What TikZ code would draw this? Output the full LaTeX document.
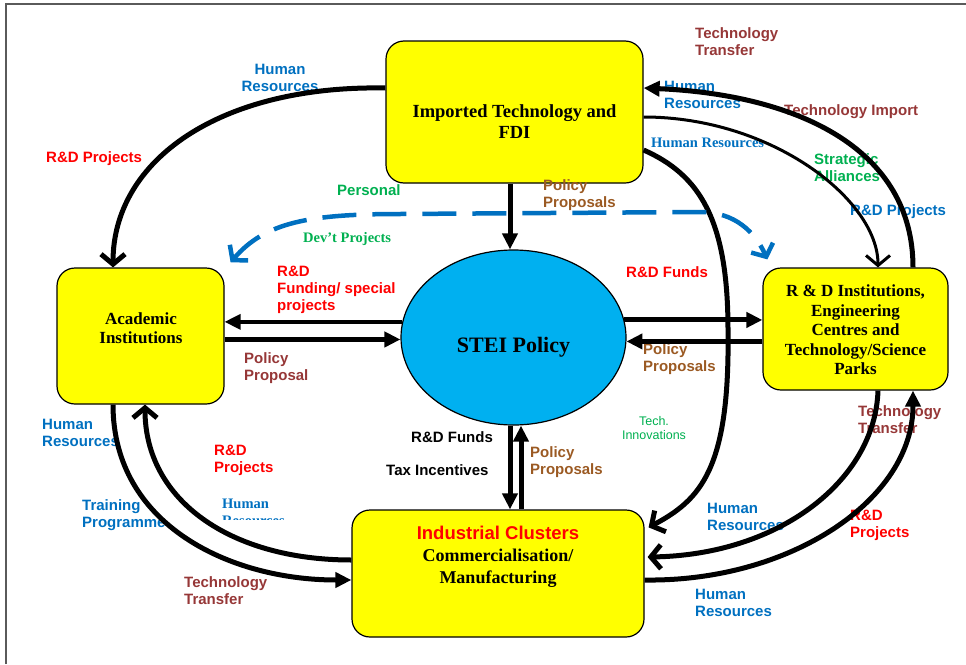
\documentclass[tikz,border=0pt]{standalone}
\usepackage{fontspec}
\setmainfont{Liberation Serif}
\setsansfont{Liberation Sans}
\usetikzlibrary{arrows.meta,shapes.geometric}

\begin{document}
\begin{tikzpicture}[x=1pt,y=-1pt]
    % Define colors
    \definecolor{boxColor}{RGB}{255,255,0}
    \definecolor{policyColor}{RGB}{0,176,240}
    \definecolor{hrColor}{RGB}{0,112,192}
    \definecolor{fundColor}{RGB}{255,0,0}
    \definecolor{transferColor}{RGB}{150,55,55}
    \definecolor{proposalColor}{RGB}{155,90,35}
    \definecolor{allianceColor}{RGB}{0,176,80}
    \definecolor{frameColor}{RGB}{90,90,90}
    % Styles
    \tikzset{
        box/.style={draw, line width=1.2pt, fill=boxColor, rounded corners=18pt},
        boxtext/.style={font=\bfseries\fontsize{17}{19.5}\selectfont, align=center},
        lbl/.style={font=\sffamily\bfseries\fontsize{15}{17}\selectfont, align=left, anchor=west, inner sep=0pt},
        seriflbl/.style={lbl, font=\bfseries\fontsize{14.5}{17}\selectfont},
        link/.style={line width=5pt},
        filled/.style={-{Triangle[length=16pt,width=15pt]}},
        barb/.style={-{Straight Barb[length=10pt,width=24pt]}},
        dashLink/.style={hrColor, line width=4.5pt, dash pattern=on 34pt off 16pt,
            {Straight Barb[length=10pt,width=24pt]}-{Straight Barb[length=10pt,width=24pt]}}
    }
    \useasboundingbox (0,0) rectangle (966,664);
    % Frame
    \draw[frameColor, line width=2pt] (6,664) -- (6,4) -- (966,4);
    % Boxes
    \node[box, minimum width=257pt, minimum height=142pt] (imp) at (514.5,112) {};
    \node[boxtext, font=\bfseries\fontsize{18.5}{21}\selectfont] (impText) at (514.5,122) {Imported Technology and\\FDI};
    \node[box, minimum width=167pt, minimum height=136pt] (acad) at (140.5,336) {};
    \node[boxtext] (acadText) at (141,328) {Academic\\Institutions};
    \node[ellipse, draw, line width=1.2pt, fill=policyColor, minimum width=225pt, minimum height=175pt] (stei) at (513.5,337.5) {};
    \node[boxtext, font=\bfseries\fontsize{22}{24}\selectfont] (steiText) at (513.5,347) {STEI Policy};
    \node[box, minimum width=185pt, minimum height=122pt] (rdi) at (855.5,329) {};
    \node[boxtext] (rdiText) at (855.5,330) {R \& D Institutions,\\Engineering\\Centres and\\Technology/Science\\Parks};
    \node[box, minimum width=292pt, minimum height=127pt] (ind) at (498,573.5) {};
    \node[boxtext, font=\bfseries\fontsize{18}{22}\selectfont] (indText) at (498,557)
        {{\sffamily\fontsize{18.5}{22}\selectfont\color{fundColor}Industrial Clusters}\\Commercialisation/\\Manufacturing};
    % Labels
    \node[lbl, hrColor, align=center, anchor=center] (hrTopLeft) at (280,78) {Human\\Resources};
    \node[lbl, fundColor] (rdTopLeft) at (46,159) {R\&D Projects};
    \node[lbl, allianceColor] (personal) at (337,190) {Personal};
    \node[seriflbl, allianceColor] (devProjects) at (303,239) {Dev't Projects};
    \node[lbl, transferColor] (ttTop) at (695,42) {Technology\\Transfer};
    \node[lbl, hrColor] (hrTopRight) at (664,94.5) {Human\\Resources};
    \node[lbl, transferColor] (techImport) at (784,112) {Technology Import};
    \node[seriflbl, hrColor] (hrImp) at (651,143) {Human Resources};
    \node[lbl, allianceColor] (alliances) at (814,168) {Strategic\\Alliances};
    \node[lbl, hrColor] (rdTopRight) at (850,212) {R\&D Projects};
    \node[lbl, proposalColor] (ppImp) at (543,195) {Policy\\Proposals};
    \node[lbl, fundColor] (fundAcad) at (277,290) {R\&D\\Funding/ special\\projects};
    \node[lbl, transferColor] (ppAcad) at (244,368.5) {Policy\\Proposal};
    \node[lbl, fundColor] (fundRdi) at (626,272) {R\&D Funds};
    \node[lbl, proposalColor] (ppRdi) at (643,359.5) {Policy\\Proposals};
    \node[lbl, black] (fundInd) at (411,437) {R\&D Funds};
    \node[lbl, black] (taxInd) at (386,470) {Tax Incentives};
    \node[lbl, proposalColor] (ppInd) at (530,462.5) {Policy\\Proposals};
    \node[lbl, allianceColor, font=\sffamily\fontsize{12.5}{14}\selectfont, align=center, anchor=center] (techInno) at (654,428) {Tech.\\Innovations};
    \node[lbl, hrColor] (hrLeft) at (42,432.5) {Human\\Resources};
    \node[lbl, fundColor] (rdLeft) at (214,460.5) {R\&D\\Projects};
    \node[lbl, hrColor] (training) at (82,515.5) {Training\\Programme};
    \begin{scope}
        \clip (200,490) rectangle (320,519);
        \node[seriflbl, hrColor] (hrLeftInner) at (222,512.5) {Human\\Resources};
    \end{scope}
    \node[lbl, transferColor] (ttLeft) at (184,591) {Technology\\Transfer};
    \node[lbl, transferColor] (ttRight) at (858,419.5) {Technology\\Transfer};
    \node[lbl, hrColor] (hrRightInner) at (707,516.5) {Human\\Resources};
    \node[lbl, fundColor] (rdRight) at (850,525.5) {R\&D\\Projects};
    \node[lbl, hrColor] (hrRight) at (695,602.5) {Human\\Resources};
    % Connectors round STEI Policy
    \draw[link, filled] ([xshift=-4.5pt]imp.south) -- ([xshift=-4.5pt]imp.south |- stei.north);
    \draw[line width=3.5pt, filled] (stei.172) -- (stei.172 -| acad.east);
    \draw[link, filled] (stei.181 -| acad.east) -- (stei.181);
    \draw[link, filled] (stei.9) -- (stei.9 -| rdi.west);
    \draw[link, filled] (stei.-2 -| rdi.west) -- (stei.-2);
    \draw[link, filled] ([xshift=-3.5pt]stei.south) -- ([xshift=-3.5pt]stei.south |- ind.north);
    \draw[link, filled] ([xshift=7.5pt]stei.south |- ind.north) -- ([xshift=7.5pt]stei.south);
    % Outer connectors
    \draw[link, barb] ([yshift=24pt]imp.west) .. controls (220,85) and (113,160) .. ([xshift=-27.5pt]acad.north);
    \draw[link, filled] ([xshift=-27.5pt]acad.south) .. controls (113,525) and (230,580) .. ([yshift=-6.5pt]ind.west);
    \draw[link, barb] ([yshift=13.5pt]ind.west) .. controls (230,560) and (145,500) .. ([xshift=4.5pt]acad.south);
    \draw[link, barb] ([yshift=-38pt]imp.east) .. controls (700,175) and (728,220) .. (728,330)
        .. controls (730,470) and (700,500) .. ([shift={(4pt,-18pt)}]ind.north east);
    \draw[link, filled] ([xshift=57.5pt]rdi.north) .. controls (913,150) and (800,95) .. ([yshift=24pt]imp.east);
    \draw[line width=3pt, barb] ([yshift=-5pt]imp.east) .. controls (772,117) and (878,200) .. ([xshift=22.5pt]rdi.north);
    \draw[link, barb] ([xshift=22.5pt]rdi.south) .. controls (875,480) and (780,555) .. ([shift={(3pt,16.5pt)}]ind.east);
    \draw[link, filled] ([yshift=-6.5pt]ind.east) .. controls (790,582) and (913,500) .. ([xshift=57.5pt]rdi.south);
    % Dashed link
    \draw[dashLink] ([shift={(6pt,5pt)}]acad.north east) .. controls (265,222) and (310,214) .. (400,214)
        -- (700,212) .. controls (735,212) and (755,232) .. ([shift={(5pt,8pt)}]rdi.north west);
\end{tikzpicture}
\end{document}
